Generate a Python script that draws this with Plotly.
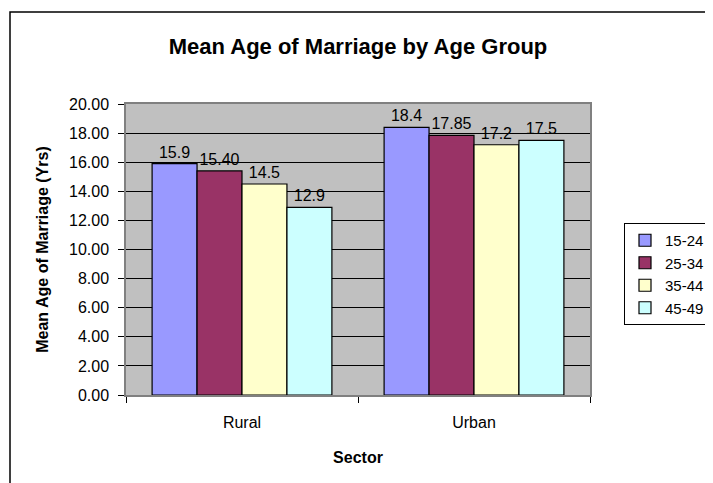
import plotly.graph_objects as go

sectors = ["Rural", "Urban"]
groups = ["15-24", "25-34", "35-44", "45-49"]
values = {
    "15-24": [15.9, 18.4],
    "25-34": [15.40, 17.85],
    "35-44": [14.5, 17.2],
    "45-49": [12.9, 17.5],
}
labels = {
    "15-24": ["15.9", "18.4"],
    "25-34": ["15.40", "17.85"],
    "35-44": ["14.5", "17.2"],
    "45-49": ["12.9", "17.5"],
}
colors = {
    "15-24": "#9999FF",
    "25-34": "#993366",
    "35-44": "#FFFFCC",
    "45-49": "#CCFFFF",
}
ytickvals = [0, 2, 4, 6, 8, 10, 12, 14, 16, 18, 20]

FONT = "Arial, 'Liberation Sans', sans-serif"

# page body has an 8px margin; compensate so the plot lands where the reference has it
OFF = 8
W, H = 713 - OFF, 483 - OFF
PL, PR, PT, PB = 126, 590, 104, 395  # plot area in window pixels

fig = go.Figure()
for g in groups:
    fig.add_trace(go.Bar(
        name=g, x=sectors, y=values[g], text=labels[g],
        textposition="outside", cliponaxis=False,
        textfont=dict(size=16, color="black", family=FONT),
        marker=dict(color=colors[g], line=dict(color="black", width=1.2)),
    ))

pw, ph = PR - PL, PB - PT
fig.update_layout(
    width=W, height=H,
    margin=dict(l=PL - OFF, r=W - (PR - OFF), t=PT - OFF, b=H - (PB - OFF), autoexpand=False),
    paper_bgcolor="white", plot_bgcolor="#C0C0C0",
    font=dict(family=FONT, color="black", size=16),
    barmode="group", bargap=0.225, bargroupgap=0,
    title=dict(text="<b>Mean Age of Marriage by Age Group</b>", x=0.5, xref="paper",
               xanchor="center", y=1 - (46 - OFF) / H, yanchor="middle",
               font=dict(size=22, family=FONT)),
    showlegend=True,
    legend=dict(x=(624 - PL) / pw, xanchor="left", y=(PB - 223) / ph, yanchor="top",
                bordercolor="black", borderwidth=1, bgcolor="white",
                font=dict(size=15, family=FONT), traceorder="normal",
                itemwidth=30),
    xaxis=dict(
        title=dict(text="<b>Sector</b>", font=dict(size=16), standoff=22),
        showline=True, linecolor="#808080", linewidth=1.5, mirror=True,
        ticks="outside", tickson="boundaries", ticklen=6, tickcolor="black",
        tickfont=dict(size=16), ticklabelstandoff=12,
    ),
    yaxis=dict(
        title=dict(text="<b>Mean Age of Marriage (Yrs)</b>", font=dict(size=16), standoff=16),
        range=[0, 20], tickvals=ytickvals, tickformat=".2f",
        showgrid=True, gridcolor="black", gridwidth=1,
        showline=True, linecolor="#808080", linewidth=1.5, mirror=True,
        ticks="outside", ticklen=6, tickcolor="black",
        tickfont=dict(size=16), zeroline=False, ticklabelstandoff=6,
    ),
    shapes=[
        dict(type="rect", xref="paper", yref="paper",
             x0=(10 - PL) / pw, x1=(730 - PL) / pw, y0=-0.5, y1=(PB - 12) / ph,
             line=dict(color="black", width=1.5), fillcolor="rgba(0,0,0,0)", layer="below"),
    ],
)

fig.write_html("out.html")
